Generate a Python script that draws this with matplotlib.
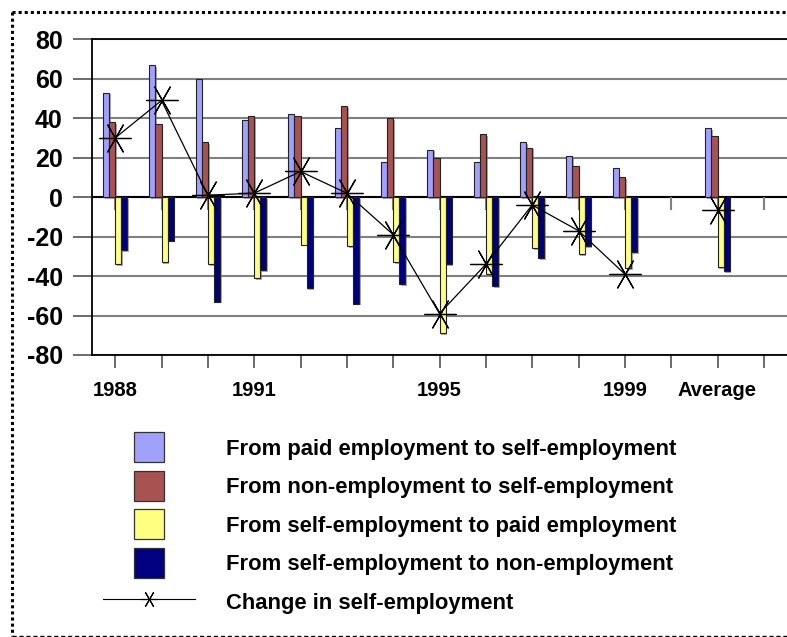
import numpy as np
import matplotlib
matplotlib.use('Agg')
import matplotlib.pyplot as plt
import matplotlib.patheffects as pe
from matplotlib.patches import Rectangle
from matplotlib.lines import Line2D
from matplotlib.legend_handler import HandlerPatch

plt.rcParams['font.family'] = 'Liberation Sans'
plt.rcParams['axes.unicode_minus'] = False

# data (years 1988-1999, then the average)
categories = ['1988', '1989', '1990', '1991', '1992', '1993', '1994',
              '1995', '1996', '1997', '1998', '1999', 'Average']
paid_to_self = [53, 67, 60, 39, 42, 35, 18, 24, 18, 28, 21, 15, 35]
non_to_self = [38, 37, 28, 41, 41, 46, 40, 20, 32, 25, 16, 10, 31]
self_to_paid = [-34, -33, -34, -41, -24, -25, -33, -69, -39, -26, -29, -36, -35.5]
self_to_non = [-27, -22, -53, -37, -46, -54, -44, -34, -45, -31, -25, -28, -37.5]
change_years = [30, 49, 1, 2, 13, 2, -19, -59, -34, -4, -17, -39]
change_average = -6.6
tick_labels = ['1988', '', '', '1991', '', '', '', '1995', '', '', '', '1999',
               '', 'Average', '']

series_labels = ['From paid employment to self-employment',
                 'From non-employment to self-employment',
                 'From self-employment to paid employment',
                 'From self-employment to non-employment']
colors = ['#a0a0ff', '#a85252', '#ffff80', '#000080']

W, H = 787, 637
fig = plt.figure(figsize=(W / 100, H / 100), dpi=100)
ax = fig.add_axes([92 / W, 1 - 355 / H, 1 - 92 / W, (355 - 39.3) / H])

# years at 0..11, a blank slot, the average at 13
pos = np.array(list(range(12)) + [13])
width = 0.13
shadow = [pe.SimplePatchShadow(offset=(1.2, -1.2), shadow_rgbFace='0.45', alpha=0.6), pe.Normal()]
for i, (vals, col) in enumerate(zip([paid_to_self, non_to_self, self_to_paid, self_to_non], colors)):
    bars = ax.bar(pos + (i - 1.5) * width, vals, width, color=col,
                  edgecolor='#222222', linewidth=0.8, zorder=3)
    for b in bars:
        b.set_path_effects(shadow)

star = (6, 2, 90)
ax.plot(pos[:12], change_years, color='black', lw=0.9, marker=star,
        markersize=23, markeredgewidth=0.9, zorder=5)
ax.plot([pos[12]], [change_average], color='black', lw=0, marker=star,
        markersize=23, markeredgewidth=0.9, zorder=5)

ax.set_xlim(-0.5, 14.5)
ax.set_ylim(-80, 80)
ax.set_yticks(range(-80, 81, 20))
ax.set_xticks(range(15))
ax.set_xticklabels(tick_labels)
ax.yaxis.grid(True, color='#808080', lw=1.5)
ax.set_axisbelow(True)
ax.axhline(0, color='black', lw=1.5, zorder=2)
ax.vlines(range(15), -6.5, 0, color='#808080', lw=1.5, zorder=2)

for s in ['left', 'top', 'bottom']:
    ax.spines[s].set_color('black')
    ax.spines[s].set_linewidth(1.3)
ax.spines['right'].set_visible(False)

ax.tick_params(axis='y', direction='out', length=14, width=1.3, color='#606060',
               pad=7, labelsize=18)
ax.tick_params(axis='x', direction='out', length=9.5, width=1.3, color='#606060',
               pad=9, labelsize=14.5)
for lab in ax.get_yticklabels() + ax.get_xticklabels():
    lab.set_fontweight('bold')


def box(legend, orig_handle, xdescent, ydescent, width, height, fontsize):
    s = 21.6
    return Rectangle((width / 2 - s / 2 - xdescent, height / 2 - s / 2 - ydescent), s, s)


handles = [Rectangle((0, 0), 1, 1, facecolor=c, edgecolor='#333333', lw=0.9) for c in colors]
handles.append(Line2D([], [], color='black', lw=0.8, marker=star, markersize=12,
                      markeredgewidth=0.8))
labels = series_labels + ['Change in self-employment']
leg = fig.legend(handles, labels, loc='upper left', bbox_to_anchor=(92 / W, 1 - 424 / H),
                 frameon=False, borderpad=0, fontsize=15.8, handlelength=4.2,
                 handleheight=1.37, labelspacing=0.62, handletextpad=1.42,
                 handler_map={Rectangle: HandlerPatch(patch_func=box)},
                 prop={'weight': 'bold', 'size': 15.8})

# dotted frame round the chart
fig.add_artist(Line2D([11.5 / W, 11.5 / W], [1 - 12 / H, 1 - 636 / H], transform=fig.transFigure,
                      color='black', lw=2.2, ls=(0, (1, 1))))
fig.add_artist(Line2D([11.5 / W, 1], [1 - 12 / H, 1 - 12 / H], transform=fig.transFigure,
                      color='black', lw=2.2, ls=(0, (1, 1))))
fig.add_artist(Line2D([11.5 / W, 1], [1 - 635.5 / H, 1 - 635.5 / H], transform=fig.transFigure,
                      color='black', lw=1.0, ls=(0, (3, 2))))

fig.savefig('out.png', dpi=100)
